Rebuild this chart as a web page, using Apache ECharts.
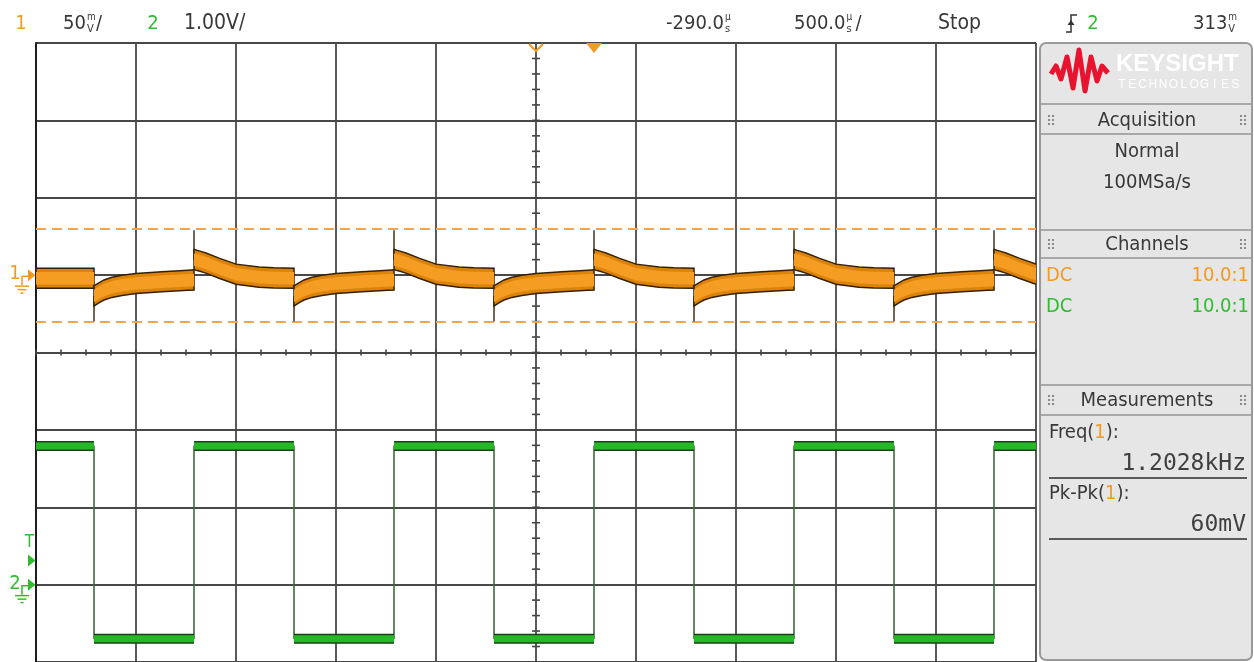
<!DOCTYPE html>
<html>
<head>
<meta charset="utf-8">
<script src="https://cdn.jsdelivr.net/npm/echarts@6/dist/echarts.min.js"></script>
<style>
  html, body { margin: 0; padding: 0; background: #ffffff; }
  #scope { width: 1254px; height: 662px; }
</style>
</head>
<body>
<div id="scope"></div>
<script>
// ---- Timebase: 500 µs/div, 10 divisions; the screen's left edge is 2790 µs before the trigger
const TIME_PER_DIV = 500;
const TRIGGER_FROM_LEFT = 2790;          // µs
const SCREEN_START = -2790;              // µs, relative to trigger
const SCREEN_END = 2210;                 // µs, relative to trigger

// ---- Channel 2 (1 V/div): square wave edges, µs relative to trigger
const CH2_RISE = [-2000, -1000, 0, 1000, 2000];
const CH2_FALL = [-2500, -1500, -500, 500, 1500];
const CH2_HIGH = 1.79;                   // V
const CH2_LOW = -0.70;                   // V
const TRIGGER_LEVEL = 0.313;             // V

// ---- Channel 1 (50 mV/div): response following each channel-2 edge, [µs after edge, mV]
const CH1_START = -2;                    // mV, level before the first edge
const CH1_AFTER_FALL = [[0, -13.5], [20, -11.8], [50, -9.6], [90, -7.9], [140, -6.6], [210, -5.4], [340, -4.3], [470, -3.3], [500, -3.1]];
const CH1_AFTER_RISE = [[0, 10], [30, 9], [60, 7.8], [125, 4.5], [210, 0.6], [325, -1.3], [400, -1.8], [500, -2]];
const CH1_NOISE = 6.5;                   // mV, half-width of the noise envelope
const CH1_SPIKE_FALL = -30;              // mV, narrow glitch at each falling edge
const CH1_SPIKE_RISE = 29;               // mV, narrow glitch at each rising edge
const CURSORS = [30, -30];               // mV, Pk-Pk measurement markers

// ---- Header / side panel text
const HEADER = { ch1Scale: '50', ch2Scale: '1.00V/', delay: '-290.0', timebase: '500.0', state: 'Stop', trigSrc: '2', trigLevel: '313' };
const MEASUREMENTS = [{ name: 'Freq', ch: '1', value: '1.2028kHz' }, { name: 'Pk-Pk', ch: '1', value: '60mV' }];

const ORANGE = '#f39a22';
const GREEN = '#2fbd2f';
const TEXT = '#383838';
const FONT = '"Liberation Sans Narrow", "DejaVu Sans Condensed", "Roboto Condensed", sans-serif';
const GRID_COLOR = '#484848';
const BAR_Y = 24;                        // header bar text centre

const toScreen = t => t + TRIGGER_FROM_LEFT;

function sortedEdges() {
  return CH2_FALL.map(t => ({ t, kind: 'fall' }))
    .concat(CH2_RISE.map(t => ({ t, kind: 'rise' })))
    .sort((a, b) => a.t - b.t);
}

// Channel 1 split into pieces between edges, each a list of [screen µs, mV]
function buildCh1Segments() {
  const edges = sortedEdges();
  const segs = [[[toScreen(SCREEN_START), CH1_START], [toScreen(edges[0].t), CH1_START]]];
  edges.forEach(e => {
    const prof = e.kind === 'fall' ? CH1_AFTER_FALL : CH1_AFTER_RISE;
    segs.push(prof.map(([dt, v]) => [toScreen(e.t + dt), v]));
  });
  return segs;
}

function buildCh1Spikes() {
  return sortedEdges().map(e => {
    const base = e.kind === 'fall' ? CH1_AFTER_FALL[0][1] : CH1_AFTER_RISE[0][1];
    const peak = e.kind === 'fall' ? CH1_SPIKE_FALL : CH1_SPIKE_RISE;
    return [{ coord: [toScreen(e.t), base] }, { coord: [toScreen(e.t), peak] }];
  });
}

function buildCh2() {
  const edges = sortedEdges();
  let level = CH2_HIGH;
  let segStart = SCREEN_START;
  const full = [[toScreen(SCREEN_START), level]];
  const flats = [];
  edges.forEach(e => {
    full.push([toScreen(e.t), level]);
    flats.push([toScreen(segStart), level], [toScreen(e.t), level], [toScreen(e.t), '-']);
    level = e.kind === 'fall' ? CH2_LOW : CH2_HIGH;
    full.push([toScreen(e.t), level]);
    segStart = e.t;
  });
  full.push([toScreen(SCREEN_END), level]);
  flats.push([toScreen(segStart), level], [toScreen(SCREEN_END), level]);
  return { full, flats };
}

// Minor tick marks along the centre crosshair
function buildCentreTicks() {
  const ticks = [];
  for (let t = 0; t <= 10 * TIME_PER_DIV; t += TIME_PER_DIV / 4) ticks.push([t, -50, 0]);
  for (let v = -250; v <= 150; v += 10) ticks.push([5 * TIME_PER_DIV, v, 1]);
  return ticks;
}

const ch1Segs = buildCh1Segments();
const ch2 = buildCh2();

const chart = echarts.init(document.getElementById('scope'), null, { renderer: 'canvas' });

const lineSeries = (data, yIdx, color, width, z, extra) => Object.assign({
  type: 'line', data, xAxisIndex: 0, yAxisIndex: yIdx, symbol: 'none', silent: true,
  lineStyle: { color, width }, z, animation: false, connectNulls: false
}, extra || {});

chart.setOption({
  animation: false,
  backgroundColor: '#ffffff',
  grid: { left: 36, top: 43, width: 1000, height: 620, show: false },
  xAxis: {
    type: 'value', min: 0, max: 10 * TIME_PER_DIV, interval: TIME_PER_DIV,
    axisLine: { show: false }, axisTick: { show: false }, axisLabel: { show: false },
    splitLine: { show: true, lineStyle: { color: GRID_COLOR, width: 1.8 } }
  },
  yAxis: [
    {
      type: 'value', min: -250, max: 150, interval: 50,
      axisLine: { show: true, onZero: false, lineStyle: { color: '#1e1e1e', width: 2 } },
      axisTick: { show: false }, axisLabel: { show: false },
      splitLine: { show: true, lineStyle: { color: GRID_COLOR, width: 1.8 } }
    },
    {
      type: 'value', min: -1, max: 7, interval: 1, show: false,
      splitLine: { show: false }
    }
  ],
  series: [
    {
      type: 'custom', data: buildCentreTicks(), xAxisIndex: 0, yAxisIndex: 0, silent: true, z: 2,
      renderItem: (params, api) => {
        const p = api.coord([api.value(0), api.value(1)]);
        const horiz = api.value(2) === 1;
        return {
          type: 'line',
          shape: horiz ? { x1: p[0] - 4, y1: p[1], x2: p[0] + 4, y2: p[1] }
                       : { x1: p[0], y1: p[1] - 3, x2: p[0], y2: p[1] + 3 },
          style: { stroke: '#444444', lineWidth: 1.6 }
        };
      }
    },
    // Pk-Pk cursors
    lineSeries([], 0, ORANGE, 0, 3, {
      markLine: {
        silent: true, symbol: ['none', 'none'], label: { show: false },
        lineStyle: { color: '#f6a54a', width: 2, type: [10, 6] },
        data: CURSORS.map(v => ({ yAxis: v }))
      }
    }),
    // Channel 2
    lineSeries(ch2.full, 1, '#3b6b3b', 1.6, 4),
    lineSeries(ch2.flats, 1, '#1d3f1d', 10, 5),
    lineSeries(ch2.flats, 1, '#27b827', 7, 6),
    // Channel 1: noise envelope drawn as a band around the trace
    {
      type: 'custom', xAxisIndex: 0, yAxisIndex: 0, silent: true, z: 7, clip: true,
      data: ch1Segs.map(s => s[0]),
      renderItem: (params, api) => {
        const seg = ch1Segs[params.dataIndex];
        const outline = half => seg.map(p => api.coord([p[0], p[1] + half]))
          .concat(seg.slice().reverse().map(p => api.coord([p[0], p[1] - half])));
        return {
          type: 'group',
          children: [
            { type: 'polygon', shape: { points: outline(CH1_NOISE) }, style: { fill: '#dc840a', stroke: '#352103', lineWidth: 1.5 } },
            { type: 'polygon', shape: { points: outline(CH1_NOISE * 0.62) }, style: { fill: '#f59c22' } }
          ]
        };
      }
    },
    // Channel 1 glitches at the edges
    lineSeries([], 0, '#4a3413', 0, 8, {
      markLine: {
        silent: true, symbol: ['none', 'none'], label: { show: false },
        lineStyle: { color: '#4a3413', width: 1.5, type: 'solid' },
        data: buildCh1Spikes()
      }
    })
  ]
});

// ---------- decorations placed from the axis scales ----------
const px = (t, v, yIdx) => chart.convertToPixel({ xAxisIndex: 0, yAxisIndex: yIdx }, [toScreen(t), v]);
const g1 = px(0, 0, 0);          // ch1 ground (x = trigger position)
const g2 = px(0, 0, 1);          // ch2 ground
const gt = px(0, TRIGGER_LEVEL, 1);
const delayRef = chart.convertToPixel({ xAxisIndex: 0, yAxisIndex: 0 }, [5 * TIME_PER_DIV, 0]);
const plotTop = 43;

const measureCtx = document.createElement('canvas').getContext('2d');
const fontStr = (size, family, weight) => (weight || 'normal') + ' ' + size + 'px ' + (family || FONT);
function textWidth(text, size, family) {
  measureCtx.font = fontStr(size, family);
  return measureCtx.measureText(text).width;
}

function txt(text, x, y, opt) {
  opt = opt || {};
  return {
    type: 'text', silent: true, z: 100,
    style: {
      text, x, y, fill: opt.fill || TEXT,
      font: fontStr(opt.size || 20, opt.family, opt.weight),
      textAlign: opt.align || 'left', textVerticalAlign: 'middle', rich: opt.rich
    }
  };
}
function line(x1, y1, x2, y2, stroke, w) {
  return { type: 'line', silent: true, z: 100, shape: { x1, y1, x2, y2 }, style: { stroke, lineWidth: w || 1.5 } };
}
function poly(points, style, closed) {
  return { type: closed ? 'polygon' : 'polyline', silent: true, z: 100, shape: { points }, style };
}

// Header readout: a number followed by a small stacked unit and an optional slash
function readout(x, value, upper, lower, slash) {
  const w = textWidth(value, 20);
  const ux = x + w + 1;
  const out = [txt(value, x, BAR_Y), txt(upper, ux, BAR_Y - 7, { size: 10 }), txt(lower, ux, BAR_Y + 5, { size: 11 })];
  if (slash) out.push(txt('/', ux + 9, BAR_Y));
  return out;
}

function groundMarker(label, gy, color) {
  return [
    txt(label, 15, gy - 1, { fill: color, size: 20, align: 'center' }),
    poly([[22, gy + 10], [22, gy + 1], [28, gy + 1]], { stroke: color, lineWidth: 1.5, fill: null }),
    poly([[28, gy - 6], [35.5, gy], [28, gy + 6]], { fill: color }, true),
    line(15, gy + 11, 29, gy + 11, color, 1.5),
    line(17.5, gy + 14.5, 26.5, gy + 14.5, color, 1.5),
    line(20.5, gy + 18, 23.5, gy + 18, color, 1.5)
  ];
}

function grip(x, cy) {
  const out = [];
  [0, 4].forEach(dx => [-4, 0, 4].forEach(dy => out.push({
    type: 'rect', silent: true, z: 100, shape: { x: x + dx, y: cy + dy - 1, width: 2, height: 2 }, style: { fill: '#8c8c8c' }
  })));
  return out;
}

function sectionHeader(title, cy, topY, botY) {
  return [
    line(1041, topY, 1251, topY, '#a8a8a8', 2),
    line(1041, botY, 1251, botY, '#a8a8a8', 2),
    txt(title, 1147, cy + 1, { align: 'center', size: 20 })
  ].concat(grip(1048, cy), grip(1240, cy));
}

const graphics = [
  // header bar
  txt('1', 21, BAR_Y, { fill: ORANGE, align: 'center' }),
  ...readout(63, HEADER.ch1Scale, 'm', 'V', true),
  txt('2', 153, BAR_Y, { fill: GREEN, align: 'center' }),
  txt(HEADER.ch2Scale, 184, BAR_Y, { size: 21 }),
  ...readout(666, HEADER.delay, 'µ', 's', false),
  ...readout(794, HEADER.timebase, 'µ', 's', true),
  txt(HEADER.state, 938, BAR_Y, { size: 21 }),
  poly([[1066, 32], [1071, 32], [1071, 15], [1077, 15]], { stroke: '#333', lineWidth: 1.5, fill: null }),
  poly([[1067.5, 25], [1071, 20], [1074.5, 25]], { fill: '#333' }, true),
  txt(HEADER.trigSrc, 1093, BAR_Y, { fill: GREEN, align: 'center' }),
  ...readout(1193, HEADER.trigLevel, 'm', 'V', false),

  // trigger / delay reference markers on the top edge
  poly([[delayRef[0] - 7, plotTop + 1], [delayRef[0], plotTop + 8], [delayRef[0] + 7, plotTop + 1]], { stroke: ORANGE, lineWidth: 2, fill: null }),
  poly([[g1[0] - 8, plotTop], [g1[0], plotTop + 10], [g1[0] + 8, plotTop]], { fill: ORANGE }, true),

  // channel ground and trigger-level markers
  ...groundMarker('1', g1[1], ORANGE),
  ...groundMarker('2', g2[1], GREEN),
  txt('T', 29.5, gt[1] - 18, { fill: GREEN, size: 17, align: 'center' }),
  poly([[28, gt[1] - 6], [35.5, gt[1]], [28, gt[1] + 6]], { fill: GREEN }, true),

  // side panel
  { type: 'rect', silent: true, z: 99, shape: { x: 1040, y: 43, width: 212, height: 617, r: 6 },
    style: { fill: '#e6e6e6', stroke: '#9a9a9a', lineWidth: 2 } },
  poly([[1051, 74], [1056, 66], [1061, 79], [1067, 57], [1073, 88], [1079, 50], [1085, 91], [1091, 57], [1097, 81], [1102, 66], [1108, 73]],
    { stroke: '#e8132f', lineWidth: 5, fill: null, lineJoin: 'round' }),
  txt('KEYSIGHT', 1116, 64, { fill: '#ffffff', size: 24, weight: 'bold', family: '"Liberation Sans", Arial, sans-serif' }),
  ...'TECHNOLOGIES'.split('').map((c, i) => txt(c, 1122 + i * 10.3, 85, { fill: '#ffffff', size: 12, align: 'center', family: '"Liberation Sans", Arial, sans-serif' })),

  ...sectionHeader('Acquisition', 120, 104, 134),
  txt('Normal', 1147, 152, { align: 'center' }),
  txt('100MSa/s', 1147, 183, { align: 'center' }),

  ...sectionHeader('Channels', 244, 230, 258),
  txt('DC', 1046, 276, { fill: ORANGE }),
  txt('10.0:1', 1249, 276, { fill: ORANGE, align: 'right' }),
  txt('DC', 1046, 307, { fill: GREEN }),
  txt('10.0:1', 1249, 307, { fill: GREEN, align: 'right' }),

  ...sectionHeader('Measurements', 400, 385, 415)
];

MEASUREMENTS.forEach((m, i) => {
  const y0 = 433 + i * 61;
  graphics.push(
    txt(`{n|${m.name}(}{c|${m.ch}}{n|):}`, 1049, y0, {
      rich: { n: { fill: TEXT, font: '20px ' + FONT }, c: { fill: ORANGE, font: '20px ' + FONT } }
    }),
    txt(m.value, 1246, y0 + 31, { align: 'right', size: 23, family: '"DejaVu Sans Mono", "Liberation Mono", monospace', fill: '#404040' }),
    line(1049, y0 + 45, 1247, y0 + 45, '#5a5a5a', 2)
  );
});

chart.setOption({ graphic: graphics });
</script>
</body>
</html>
